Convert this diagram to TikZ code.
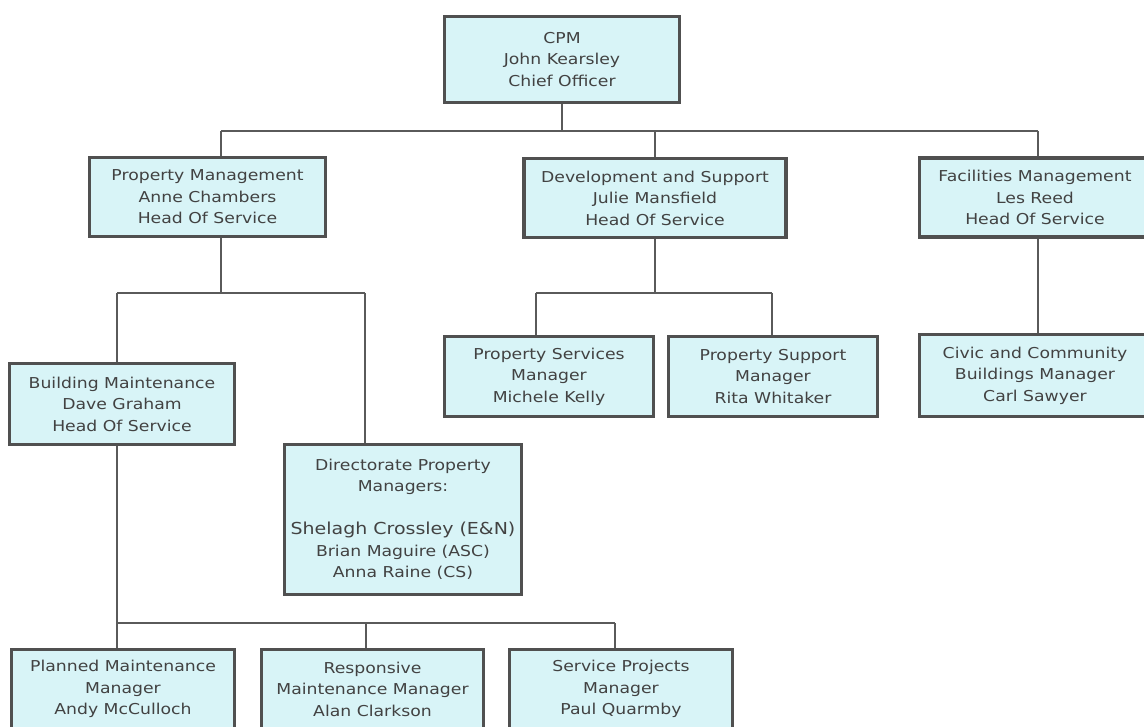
\documentclass[tikz,border=0pt]{standalone}
\usepackage{fontspec}
\newfontfamily\boxfam[FakeStretch=1.15]{DejaVu Sans}
\definecolor{boxfill}{RGB}{216,244,247}
\definecolor{boxline}{RGB}{80,80,80}
\definecolor{txt}{RGB}{66,66,66}
\definecolor{lin}{RGB}{90,90,90}
\tikzset{
  box/.style={draw=boxline, line width=3.6pt, fill=boxfill, text=txt, align=center,
    inner sep=0pt, font=\boxfam\fontsize{15}{21.5}\selectfont},
  conn/.style={draw=lin, line width=1.5pt}
}
\begin{document}
\begin{tikzpicture}[x=1pt,y=-1pt]
\clip (0,0) rectangle (1144,727);
\fill[white] (0,0) rectangle (1144,727);
% nodes
\node[box, minimum width=235, minimum height=86] (cpm) at (562,59.5) {CPM\\John Kearsley\\Chief Officer};
\node[box, minimum width=236, minimum height=79] (pm) at (207.5,197) {Property Management\\Anne Chambers\\Head Of Service};
\node[box, minimum width=262, minimum height=79] (ds) at (655,198) {Development and Support\\Julie Mansfield\\Head Of Service};
\node[box, minimum width=231, minimum height=79] (fm) at (1035,197.5) {Facilities Management\\Les Reed\\Head Of Service};
\node[box, minimum width=225, minimum height=81] (bm) at (122,404) {Building Maintenance\\Dave Graham\\Head Of Service};
\node[box, minimum width=237, minimum height=150] (dir) at (403,519.5) {Directorate Property\\Managers:\\[21.5pt]{\fontsize{16.5}{22}\selectfont Shelagh Crossley (E\&N)}\\Brian Maguire (ASC)\\Anna Raine (CS)};
\node[box, minimum width=209, minimum height=80] (psm) at (549,376.5) {Property Services\\Manager\\Michele Kelly};
\node[box, minimum width=209, minimum height=80] (psup) at (773,376.5) {Property Support\\Manager\\Rita Whitaker};
\node[box, minimum width=231, minimum height=82] (civ) at (1035,375.5) {Civic and Community\\Buildings Manager\\Carl Sawyer};
\node[box, minimum width=223, minimum height=79] (plan) at (123,689) {Planned Maintenance\\Manager\\Andy McCulloch};
\node[box, minimum width=222, minimum height=79] (resp) at (372.5,689) {Responsive\\Maintenance Manager\\Alan Clarkson};
\node[box, minimum width=223, minimum height=79] (sp) at (621,689) {Service Projects\\Manager\\Paul Quarmby};
% junction coordinates
\coordinate (j0) at (562,131);
\coordinate (jpm) at (221,131);
\coordinate (jfm) at (1038,131);
\coordinate (jpmd) at (221,293);
\coordinate (jbm) at (117,293);
\coordinate (jdir) at (365,293);
\coordinate (jds) at (655,293);
\coordinate (jpsm) at (536,293);
\coordinate (jpsup) at (772,293);
\coordinate (jbmd) at (117,623);
\coordinate (jresp) at (366,623);
\coordinate (jsp) at (615,623);
% connectors
\draw[conn] (cpm.south) -- (j0);
\draw[conn] (jpm) -- (jfm);
\draw[conn] (jpm) -- (pm.north -| jpm);
\draw[conn] (ds.north) -- (ds.north |- j0);
\draw[conn] (jfm) -- (fm.north -| jfm);
\draw[conn] (pm.south -| jpmd) -- (jpmd);
\draw[conn] (jbm) -- (jdir);
\draw[conn] (jbm) -- (bm.north -| jbm);
\draw[conn] (jdir) -- (dir.north -| jdir);
\draw[conn] (ds.south -| jds) -- (jds);
\draw[conn] (jpsm) -- (jpsup);
\draw[conn] (jpsm) -- (psm.north -| jpsm);
\draw[conn] (jpsup) -- (psup.north -| jpsup);
\draw[conn] (fm.south -| jfm) -- (civ.north -| jfm);
\draw[conn] (bm.south -| jbmd) -- (jbmd);
\draw[conn] (jbmd) -- (jsp);
\draw[conn] (jbmd) -- (plan.north -| jbmd);
\draw[conn] (jresp) -- (resp.north -| jresp);
\draw[conn] (jsp) -- (sp.north -| jsp);
\end{tikzpicture}
\end{document}
